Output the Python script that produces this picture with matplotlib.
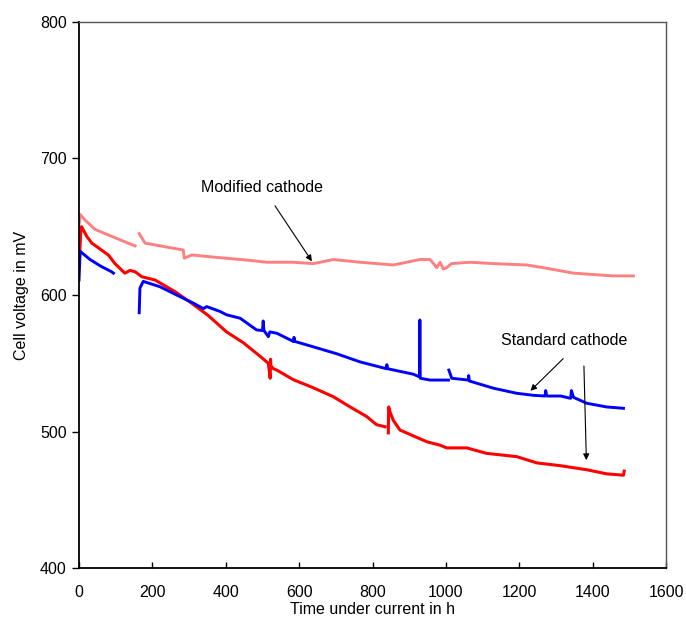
import numpy as np
import matplotlib
matplotlib.use('Agg')
import matplotlib.pyplot as plt

plt.rcParams['font.family'] = ['Liberation Sans', 'DejaVu Sans']

nan = np.nan

# Modified cathode (light red)
mod_t = [0, 3, 16, 44, 89, 143, 153, nan, 164, 180, 221, 262, 284, 287, 307, 398, 457, 511,
         584, 639, 693, 766, 857, 929, 957, 975, 984, 993, 1002, 1015, 1066, 1130, 1220,
         1266, 1348, 1402, 1456, 1511]
mod_v = [650, 659, 655, 648, 643, 637, 636, nan, 645, 638, 636, 634, 633, 627, 629.3, 627, 625.6, 624,
         624, 623, 626, 624, 622, 626, 626, 620, 624, 619, 620, 623, 624, 623, 622,
         620, 616, 615, 614, 614]

# Standard cathode, cell 1 (red)
red_t = [0, 5, 7, 21, 35, 80, 98, 125, 139, 153, 171, 207, 262, 307, 352, 402, 448,
         494, 516, 521, 522, 523, 530, 539, 584, 639, 693, 739, 784, 811, 834, nan,
         843, 844, 848, 857, 875, 884, 948, 984, 1002, 1057, 1111, 1193, 1248, 1311,
         1384, 1438, 1484, 1486]
red_v = [620, 648, 650, 643, 638, 629.3, 623, 616, 618, 617, 613.4, 611, 602.4, 594, 585, 573, 565,
         555, 550, 539, 553, 548, 546, 545, 538, 532, 525.5, 518, 511, 505, 503.5, nan,
         499, 518, 514, 508, 501, 500, 492.5, 490, 488, 488, 484, 481.6, 477, 475,
         472, 469, 468, 471]

# Standard cathode, cell 2 (blue)
blue_t = [0, 3, 30, 60, 89, 94, nan, 164, 166, 175, 221, 266, 312, 339, 348, 384, 402, 439, 484,
          500, 502, 504, 516, 520, 539, 584, 586, 588, 639, 702, 766, 838, 839, 841, 911,
          928, 929, 930, 957, 1007, nan, 1008, 1016, 1061, 1062, 1064, 1130, 1193, 1239,
          1270, 1272, 1275, 1313, 1340, 1342, 1348, 1384, 1438, 1484]
blue_v = [611, 632, 626, 621, 617, 616, nan, 587, 605, 610, 606, 600, 594, 590, 591.5, 588, 585.5, 583, 574.4,
          574, 581, 574, 569.5, 573, 572, 566, 569, 566, 562, 557, 551, 546, 549, 546, 542,
          540, 581.7, 539, 537.7, 537.7, nan, 545, 539, 537.7, 541, 537, 531.7, 528, 526.5,
          526, 530, 526, 526, 524.3, 530, 525, 520.7, 518, 517]

fig = plt.figure(figsize=(6.86, 6.21), dpi=100)
ax = fig.add_axes([0.1152, 0.0853, 0.8557, 0.8793])

ax.plot(mod_t, mod_v, color='#ff8080', lw=2.1)
ax.plot(red_t, red_v, color='#ff0000', lw=2.2)
ax.plot(blue_t, blue_v, color='#0000ff', lw=2.1)

ax.set_xlim(0, 1600)
ax.set_ylim(400, 800)
ax.set_xticks(np.arange(0, 1601, 200))
ax.set_yticks(np.arange(400, 801, 100))
ax.tick_params(axis='x', direction='in', length=4, width=1, labelsize=11.5, pad=12)
ax.tick_params(axis='y', direction='out', length=5, width=1, labelsize=11.5, pad=4)

for s in ['left', 'bottom']:
    ax.spines[s].set_linewidth(1.3)
    ax.spines[s].set_color('black')
for s in ['top', 'right']:
    ax.spines[s].set_linewidth(1.0)
    ax.spines[s].set_color('#555555')

ax.set_xlabel('Time under current in h', fontsize=11.5, labelpad=2)
ax.set_ylabel('Cell voltage in mV', fontsize=11.5, labelpad=8)

ax.annotate('', xy=(639, 623), xytext=(530, 667),
            arrowprops=dict(arrowstyle='-|>', color='black', lw=0.8, mutation_scale=9))
ax.text(500, 679, 'Modified cathode', fontsize=11.5, ha='center', va='center')

ax.annotate('', xy=(1225, 528.4), xytext=(1325, 554.8),
            arrowprops=dict(arrowstyle='-|>', color='black', lw=0.8, mutation_scale=9))
ax.annotate('', xy=(1383, 477), xytext=(1376, 550),
            arrowprops=dict(arrowstyle='-|>', color='black', lw=0.8, mutation_scale=9))
ax.text(1322, 567, 'Standard cathode', fontsize=11.5, ha='center', va='center')

fig.savefig('out.png', dpi=100)
